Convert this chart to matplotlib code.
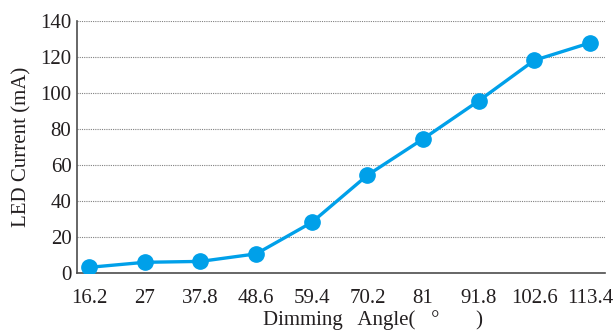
import matplotlib
matplotlib.use("Agg")
import matplotlib.pyplot as plt

angles = ["16.2", "27", "37.8", "48.6", "59.4", "70.2", "81", "91.8", "102.6", "113.4"]
current_ma = [3.0, 5.8, 6.3, 10.5, 28.0, 54.3, 74.5, 95.7, 118.3, 128.0]

plt.rcParams["font.family"] = ["Liberation Serif", "DejaVu Serif"]

fig = plt.figure(figsize=(6.16, 3.34), dpi=100)
ax = fig.add_axes([0.125, 0.1835, 0.857, 0.7525])

x = list(range(len(angles)))
ax.plot(x, current_ma, color="#00a0e9", linewidth=2.4, marker="o",
        markersize=11, zorder=3)

ax.set_xlim(-0.22, 9.27)
ax.set_ylim(0, 140)
ax.set_yticks(range(0, 141, 20))
ax.set_xticks(x)
ax.set_xticklabels(angles)
ax.tick_params(length=0, labelsize=15, colors="#231f20")
ax.tick_params(axis="x", pad=11.5)
ax.tick_params(axis="y", pad=4)
ax.yaxis.grid(True, color="#808080", linestyle=(0, (1, 1)), linewidth=0.8)
ax.set_axisbelow(True)

for s in ("top", "right"):
    ax.spines[s].set_visible(False)
for s in ("left", "bottom"):
    ax.spines[s].set_color("#4d4d4d")
    ax.spines[s].set_linewidth(1.2)

ax.set_ylabel("LED Current (mA)", fontsize=15, color="#231f20", labelpad=6)
ax.set_xlabel("Dimming   Angle(   °       )", fontsize=15, color="#231f20")
ax.xaxis.set_label_coords(0.56, -0.15)

fig.savefig("out.png", dpi=100)
